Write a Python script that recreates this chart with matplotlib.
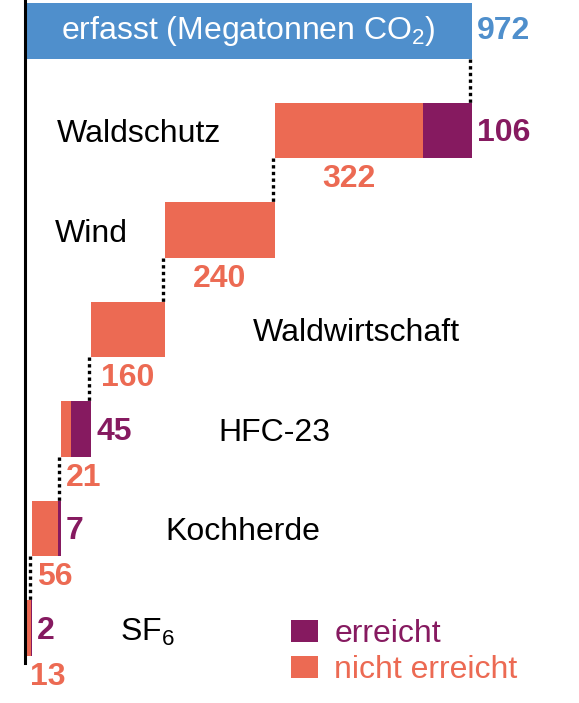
import numpy as np
import matplotlib
matplotlib.use("Agg")
import matplotlib.pyplot as plt
from matplotlib.patches import Patch

plt.rcParams['font.family'] = ['Liberation Sans', 'DejaVu Sans']
plt.rcParams['mathtext.default'] = 'regular'

#-------data------
total = 972
total_label = 'erfasst (Megatonnen CO$_2$)'
categories = ['Waldschutz', 'Wind', 'Waldwirtschaft', 'HFC-23', 'Kochherde', 'SF$_6$']
not_reached = [322, 240, 160, 21, 56, 13]
reached = [106, 0, 0, 45, 7, 2]

#-------colours / layout------
blue = '#4f8fcc'
orange = '#ec6a53'
purple = '#861a60'
fs = 23
px = 447 / 972          # pixels per Mt
label_px = [57, 55, 253, 218, 165, 120]   # x of category names (pixels)
h = 0.56

fig = plt.figure(figsize=(5.79, 7.03), dpi=100)
ax = fig.add_axes([0, 0, 1, 1])
ax.set_xlim(-25 / px, (579 - 25) / px)
ax.set_ylim((703 - 31) / 99.5, -31 / 99.5)
ax.axis('off')

def to_x(p):
    return (p - 25) / px

#-----total bar-----
ax.barh(0, total, height=h, left=0, color=blue)
ax.text(total / 2, 0, total_label, color='white', fontsize=fs,
        ha='center', va='center')
ax.text(total + 5 / px, 0, str(total), color=blue, fontsize=fs,
        fontweight='bold', ha='left', va='center')

#-----waterfall-----
right = total
for i, (cat, nr, r) in enumerate(zip(categories, not_reached, reached)):
    y = i + 1
    left = right - nr - r
    ax.barh(y, nr, height=h, left=left, color=orange)
    if r:
        ax.barh(y, r, height=h, left=left + nr, color=purple)
        ax.text(right + 5 / px, y + 0.03, str(r), color=purple, fontsize=fs,
                fontweight='bold', ha='left', va='center')
    # connector from previous bar
    ax.plot([right - 2 / px, right - 2 / px], [y - 1 + h / 2, y - h / 2],
            color='black', lw=2.4, ls=(0, (1, 1)))
    # not reached value below bar
    half = 8.6 * len(str(nr)) / px
    xc = max(left + nr / 2, left + 6 / px + half)
    ax.text(xc, y + 0.49, str(nr), color=orange, fontsize=fs,
            fontweight='bold', ha='center', va='center')
    ax.text(to_x(label_px[i]), y + 0.04, cat, color='black', fontsize=fs,
            ha='left', va='center')
    right = left

#-----axis line-----
ax.axvline(0, ymin=1 - 663 / 703, ymax=1, color='black', lw=2.2)

#-----legend-----
handles = [Patch(facecolor=purple, label='erreicht'),
           Patch(facecolor=orange, label='nicht erreicht')]
ax.legend(handles=handles, loc='upper left',
          bbox_to_anchor=(291 / 579, 1 - 619 / 703), frameon=False,
          fontsize=fs, labelcolor=[purple, orange], borderpad=0,
          borderaxespad=0, handlelength=0.85, handleheight=0.7,
          handletextpad=0.5, labelspacing=0.2)

fig.savefig('out.png', dpi=100)
